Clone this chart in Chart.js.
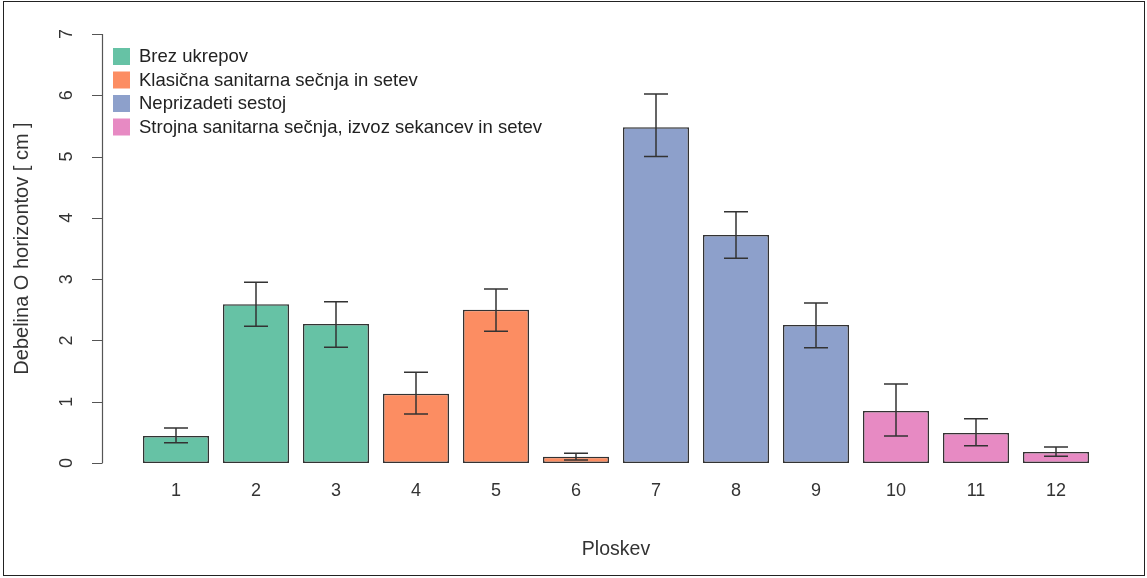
<!DOCTYPE html>
<html>
<head>
<meta charset="utf-8">
<script src="https://cdn.jsdelivr.net/npm/chart.js@4"></script>
<style>
  body { margin: 0; background: #fff; }
  #chart { display: block; }
</style>
</head>
<body>
<canvas id="chart" width="1147" height="578"></canvas>
<script>
const plots = ['1', '2', '3', '4', '5', '6', '7', '8', '9', '10', '11', '12'];
const groups = [
    'Brez ukrepov',
    'Klasična sanitarna sečnja in setev',
    'Neprizadeti sestoj',
    'Strojna sanitarna sečnja, izvoz sekancev in setev'
];
const plotGroup = [0, 0, 0, 1, 1, 1, 2, 2, 2, 3, 3, 3];
const means   = [0.44, 2.59, 2.27, 1.13, 2.50, 0.10, 5.48, 3.72, 2.25, 0.85, 0.49, 0.18];
const errLow  = [0.33, 2.23, 1.89, 0.80, 2.15, 0.05, 5.00, 3.34, 1.88, 0.44, 0.28, 0.11];
const errHigh = [0.57, 2.95, 2.63, 1.48, 2.84, 0.16, 6.02, 4.10, 2.61, 1.29, 0.72, 0.26];
const yTicks = [0, 1, 2, 3, 4, 5, 6, 7];

const groupColors = ['#66c2a5', '#fc8d62', '#8da0cb', '#e78ac3'];
const fontFamily = '"Liberation Sans", Arial, sans-serif';
const ink = '#333';

// R style left axis, axis title, error bars, legend and frame
const rStyle = {
    id: 'rStyle',
    afterDatasetsDraw(chart) {
        const ctx = chart.ctx;
        const y = chart.scales.y;
        const bars = chart.getDatasetMeta(0).data;
        ctx.save();
        ctx.strokeStyle = ink;
        ctx.lineWidth = 1.5;
        bars.forEach(function(b, i) {
            const x = b.x;
            const lo = y.getPixelForValue(errLow[i]);
            const hi = y.getPixelForValue(errHigh[i]);
            ctx.beginPath();
            ctx.moveTo(x, lo); ctx.lineTo(x, hi);
            ctx.moveTo(x - 12, lo); ctx.lineTo(x + 12, lo);
            ctx.moveTo(x - 12, hi); ctx.lineTo(x + 12, hi);
            ctx.stroke();
        });
        ctx.restore();
    },
    afterDraw(chart) {
        const ctx = chart.ctx;
        const y = chart.scales.y;
        const area = chart.chartArea;
        const ax = area.left - 34;
        ctx.save();
        ctx.strokeStyle = '#555';
        ctx.lineWidth = 1.2;
        ctx.beginPath();
        ctx.moveTo(ax + 0.5, y.getPixelForValue(yTicks[0]));
        ctx.lineTo(ax + 0.5, y.getPixelForValue(yTicks[yTicks.length - 1]));
        yTicks.forEach(function(v) {
            const p = Math.round(y.getPixelForValue(v)) + 0.5;
            ctx.moveTo(ax - 10, p);
            ctx.lineTo(ax + 0.5, p);
        });
        ctx.stroke();

        ctx.fillStyle = ink;
        ctx.font = '18px ' + fontFamily;
        ctx.textAlign = 'center';
        ctx.textBaseline = 'middle';
        yTicks.forEach(function(v) {
            ctx.save();
            ctx.translate(ax - 35, y.getPixelForValue(v));
            ctx.rotate(-Math.PI / 2);
            ctx.fillText(String(v), 0, 0);
            ctx.restore();
        });

        ctx.save();
        ctx.font = '20px ' + fontFamily;
        ctx.translate(22, (y.top + y.bottom) / 2);
        ctx.rotate(-Math.PI / 2);
        ctx.fillText('Debelina O horizontov [ cm ]', 0, 0);
        ctx.restore();

        // legend
        ctx.font = '18.5px ' + fontFamily;
        ctx.textAlign = 'left';
        groups.forEach(function(g, i) {
            const cy = 56 + i * 23.5;
            ctx.fillStyle = groupColors[i];
            ctx.fillRect(ax + 11, cy - 8, 17, 17);
            ctx.fillStyle = '#222';
            ctx.fillText(g, ax + 37, cy + 1);
        });

        ctx.strokeStyle = '#222';
        ctx.lineWidth = 1;
        ctx.strokeRect(3.5, 1.5, chart.width - 6, chart.height - 4);
        ctx.restore();
    }
};

const chart_data = {
    labels: plots,
    datasets: [{
        data: means,
        backgroundColor: plotGroup.map(function(g) { return groupColors[g]; }),
        borderColor: ink,
        borderWidth: 1.5,
        borderSkipped: false,
        categoryPercentage: 1,
        barPercentage: 0.825
    }]
};

const config = {
    type: 'bar',
    data: chart_data,
    options: {
        responsive: false,
        animation: false,
        devicePixelRatio: 1,
        layout: { padding: { left: 136, right: 51, top: 34, bottom: 13 } },
        plugins: { legend: { display: false }, tooltip: { enabled: false } },
        scales: {
            x: {
                grid: { display: false, drawTicks: false },
                border: { display: false },
                ticks: { color: ink, font: { size: 18, family: fontFamily }, padding: 17 },
                title: {
                    display: true,
                    text: 'Ploskev',
                    color: ink,
                    font: { size: 19.5, family: fontFamily },
                    padding: { top: 19, bottom: 4 }
                }
            },
            y: {
                display: false,
                min: 0,
                max: 7
            }
        }
    },
    plugins: [rStyle]
};

const barchart = new Chart(document.getElementById('chart'), config);
</script>
</body>
</html>
